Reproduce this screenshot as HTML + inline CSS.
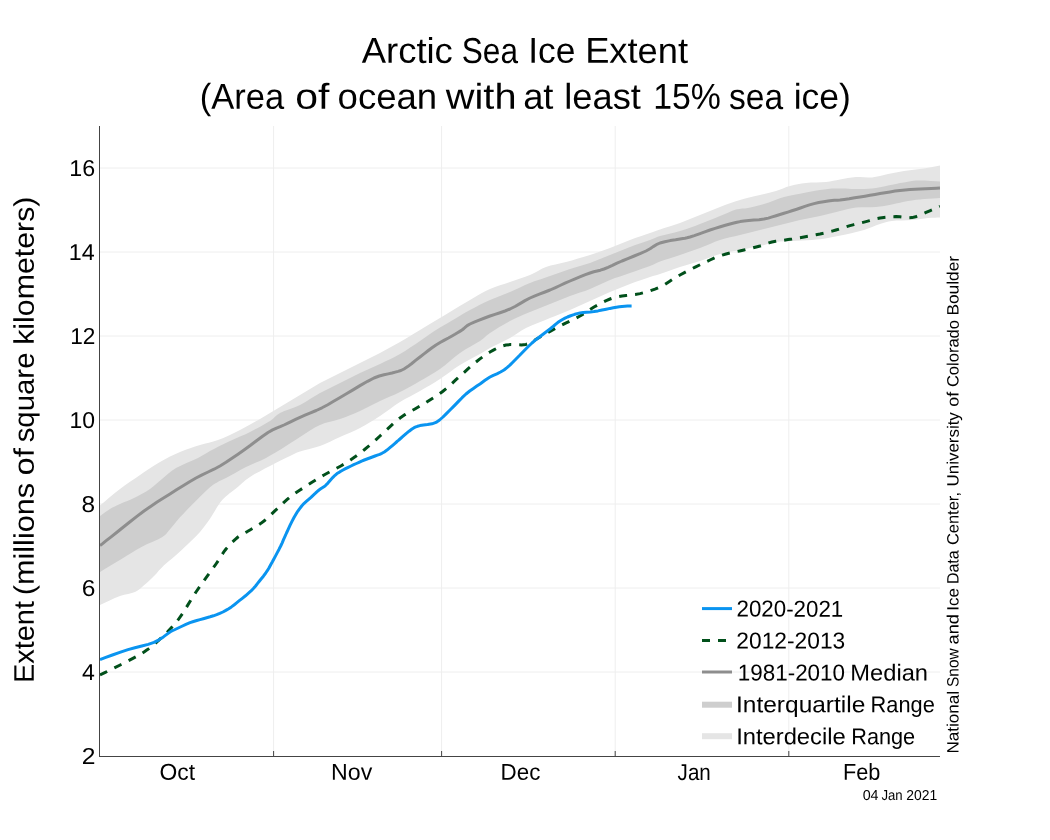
<!DOCTYPE html>
<html lang="en">
<head>
<meta charset="utf-8">
<title>Arctic Sea Ice Extent</title>
<style>
html,body{margin:0;padding:0;background:#fff;}
body{width:1050px;height:840px;overflow:hidden;}
svg text{font-family:"Liberation Sans", sans-serif;}
</style>
</head>
<body>
<svg width="1050" height="840" viewBox="0 0 1050 840" style="display:block;will-change:transform;opacity:0.999">
<rect width="1050" height="840" fill="#fff"/>
<line x1="273.6" x2="273.6" y1="126" y2="756" stroke="#eeeeee" stroke-width="1"/>
<line x1="441.6" x2="441.6" y1="126" y2="756" stroke="#eeeeee" stroke-width="1"/>
<line x1="615.2" x2="615.2" y1="126" y2="756" stroke="#eeeeee" stroke-width="1"/>
<line x1="788.8" x2="788.8" y1="126" y2="756" stroke="#eeeeee" stroke-width="1"/>
<line x1="100" x2="940" y1="672" y2="672" stroke="#eeeeee" stroke-width="1"/>
<line x1="100" x2="940" y1="588" y2="588" stroke="#eeeeee" stroke-width="1"/>
<line x1="100" x2="940" y1="504" y2="504" stroke="#eeeeee" stroke-width="1"/>
<line x1="100" x2="940" y1="420" y2="420" stroke="#eeeeee" stroke-width="1"/>
<line x1="100" x2="940" y1="336" y2="336" stroke="#eeeeee" stroke-width="1"/>
<line x1="100" x2="940" y1="252" y2="252" stroke="#eeeeee" stroke-width="1"/>
<line x1="100" x2="940" y1="168" y2="168" stroke="#eeeeee" stroke-width="1"/>
<clipPath id="c"><rect x="100" y="126" width="840" height="630"/></clipPath>
<g clip-path="url(#c)">
<polygon points="100,505.4 103.6,502.4 108.8,498.1 114.5,493.3 120,489 125,485.3 130,481.8 135,478.4 140,475 145,471.6 150,468.2 155,465 160,462 165,459.2 170,456.6 175,454.2 180,452 185,450 190.1,448.2 195.1,446.5 200,445 204.5,443.7 208.9,442.7 213.3,441.6 218,440 223.3,437.9 228.9,435.4 234.5,432.7 240,430 245.1,427.3 250.1,424.6 255,421.8 260,419 265,416.1 270,413.1 275,410 280,407 285,404 290,401 295,398 300,395 305,392 310,388.9 315,385.9 320,383 325,380.4 330,377.9 335,375.5 340,373 345,370.5 350,368 355,365.5 360,363 365,360.5 370,358.1 375,355.6 380,353 385,350.3 390,347.6 395,344.8 400,342 404.3,339.5 408.1,337.2 412.9,334.3 420,330 431.1,323.3 445,314.9 458.9,306.6 470,300 477.1,295.8 481.9,293.1 485.7,291 490,289 495,287 500,285.2 505,283.7 510,282 515.1,280.3 520.2,278.6 525.3,276.8 530,275 534.2,273 538,270.9 541.8,268.8 546,267 550.6,265.6 555.5,264.4 560.6,263.3 566,262 571.8,260.4 578,258.6 584.2,256.8 590,255 595.3,253.3 600.2,251.6 605.1,249.8 610,248 615,246 620,244 625,242 630,240 635.2,238.1 640.6,236.2 645.7,234.5 650,233 653,231.9 655,231.2 657,230.5 660,229.5 664.3,228.1 669.4,226.5 674.8,224.8 680,223 685,221.1 690,219.1 695,217 700,215 705,213 710,210.9 715,208.9 720,207 725,205.1 730,203.3 735,201.6 740,200 745.1,198.6 750.2,197.3 755.3,196.1 760,195 764.3,194 768.4,193 772.2,192 776,191 779.6,189.8 783,188.4 786.4,187.1 790,186 793.8,185.1 797.6,184.2 801.7,183.6 806,183 810.9,182.6 816.1,182.5 821.3,182.3 826,182 829.9,181.5 833.2,180.8 836.5,180.2 840,179.5 843.9,178.8 847.9,178.1 852,177.4 856,177 860,177 864,177.3 868,177.5 872,177.4 876,176.8 880,175.9 884,174.9 888,174 892,173.2 896,172.4 900,171.7 904,171 907.9,170.5 911.8,170 915.7,169.6 920,169 925.2,168.2 931,167.2 936.3,166.2 940,165.6 940,217.6 937.9,217.6 935,217.7 931.6,217.8 928,218 924.4,218.4 920.5,219 916.4,219.5 912,220 907.1,220.3 901.8,220.4 896.5,220.6 892,221 888.5,221.5 885.8,222.2 883.1,223 880,224 876.3,225.3 872.2,226.9 868.1,228.6 864,230 860.1,231.1 856.2,232.1 852.3,233 848,234 843.2,235 838,236.1 832.8,237.1 828,238 823.8,238.7 820,239.2 816.2,239.6 812,240 807.2,240.3 802,240.6 796.8,240.8 792,241 787.7,241.2 783.8,241.3 779.9,241.5 776,242 772.1,242.8 768.2,243.8 764.3,244.9 760,246 755.3,247 750.2,248 745.1,249 740,250 735,250.9 730,251.8 725,252.8 720,254 715,255.6 710,257.4 705,259.2 700,261 695,262.5 690,264 685,265.5 680,267 674.8,268.8 669.4,270.7 664.3,272.5 660,274 657,274.9 655,275.5 653,276.1 650,277 645.7,278.4 640.6,280.2 635.2,282.1 630,284 625,285.9 620,287.9 615,289.9 610,292 605,294.2 600,296.4 595,298.7 590,301 585,303.3 580,305.6 575,307.8 570,310 565.1,312 560.2,313.9 555.3,315.9 550,318 544.1,320.4 537.8,322.9 531.5,325.5 526,328 521.5,330.5 517.8,333 514.1,335.5 510,338 505,340.6 499.6,343.2 494.4,345.8 490,348 487,349.7 485,350.9 483,352.2 480,354 475.7,356.3 470.6,359 465.2,361.9 460,365 455,368.3 450,371.9 445,375.6 440,379 435,382.2 430,385.2 425,388.1 420,391 415,393.8 410,396.4 405,399.1 400,402 395,405.3 390,408.9 385,412.6 380,416 375,419.2 370,422.3 365,425.3 360,428 355,430.5 350,432.7 345,434.8 340,437 335,439.3 330,441.7 325,444 320,446 314.8,447.6 309.4,449 304.3,450.3 300,451.5 297,452.6 295,453.5 293,454.5 290,456 285.7,458.1 280.6,460.6 275.2,463.3 270,466 264.9,468.6 259.7,471.4 254.6,474.1 250,477 245.7,480.1 241.7,483.5 238.1,486.7 235,489.3 232.7,491.1 231.1,492.3 229.6,493.3 228,494.7 226.1,496.3 224.2,498 222.2,500.1 220,502.7 217.6,506.2 215.1,510.4 212.5,514.7 210,518.7 207.5,522.2 205.1,525.6 202.6,528.8 200,532 197.2,535.1 194.2,538.1 191.1,541 188,544 184.8,547.1 181.4,550.2 178.1,553.2 175,556 172.1,558.5 169.3,560.7 166.6,562.9 164,565.3 161.4,567.9 158.9,570.6 156.5,573.4 154,576 151.5,578.5 148.9,580.9 146.4,583.2 144,585.3 141.8,587.2 139.8,589 137.6,590.6 135,592 131.8,593.1 128.2,593.9 124.2,594.7 120,596 114.9,598.1 109.1,600.8 103.7,603.3 100,605" fill="#e5e5e5"/>
<polygon points="100,516 101.8,514.7 104.4,512.8 107.3,510.8 110,509 112.4,507.6 114.8,506.4 117.2,505.3 120,504 123.2,502.6 126.6,501.2 130.3,499.7 134,498 138,496 142.1,493.8 146.2,491.4 150,489 153.2,486.6 156.1,484.1 159,481.6 162,479 165.2,476.3 168.4,473.5 171.9,470.7 176,468 181.2,465.4 187.1,462.8 193,460.3 198,458 201.5,456.1 204.1,454.5 206.7,452.9 210,451 214.4,448.7 219.5,446.1 224.8,443.5 230,441 235,438.7 240,436.6 245,434.4 250,432 255.2,429.3 260.6,426.4 265.7,423.6 270,421 273,418.8 275,416.8 277,414.9 280,413 284.3,411.1 289.4,409.2 294.8,407.3 300,405 305,402.2 310,399.1 315,396 320,393 325,390.4 330,387.9 335,385.5 340,383 345,380.5 350,377.9 355,375.4 360,373 365,370.7 370,368.5 375,366.3 380,364 385,361.6 390,359.2 395,356.7 400,354 405.1,350.9 410.2,347.6 415.3,344.2 420,341 424.3,338.1 428.2,335.3 432.1,332.6 436,330 440,327.5 443.9,325.2 447.9,322.9 452,320.5 456.3,317.9 460.8,315.3 465.3,312.6 470,310 474.9,307.4 479.9,304.8 485,302.3 490,300 495,297.9 500,295.9 505,294 510,292 515,289.8 520,287.4 525,285.1 530,283 535,281.1 540,279.4 545,277.7 550,276 555,274.2 560,272.4 565,270.7 570,269 575,267.5 580,266.1 585,264.6 590,263 595,261.1 600,259.1 605,257 610,255 615,253 620,250.9 625,248.9 630,247 635.2,245.1 640.6,243.2 645.7,241.5 650,240 653,238.8 655,237.9 657,237 660,236 664.3,234.9 669.4,233.7 674.8,232.4 680,231 685,229.4 690,227.7 695,225.9 700,224 705.1,222 710.2,220 715.3,217.9 720,216 724.4,214.2 728.5,212.4 732.4,210.8 736,209.6 739.2,208.9 742,208.6 744.8,208.5 748,208 751.6,207.2 755.5,206.3 759.6,205.3 764,204 768.8,202.4 774,200.5 779.2,198.6 784,197 788.2,195.9 792,195.2 795.8,194.6 800,193.8 804.8,192.8 810,191.8 815.2,190.8 820,190 824.2,189.4 828,188.9 831.8,188.6 836,188.4 840.8,188.4 846,188.6 851.2,188.9 856,189 860.3,189 864.2,188.9 868.1,188.7 872,188.4 876,187.9 880,187.2 884,186.4 888,185.6 892,184.8 896,183.9 900,183.1 904,182.4 907.9,181.7 911.8,181.1 915.7,180.6 920,180.4 925.2,180.5 931,180.9 936.3,181.3 940,181.6 940,198 937.1,198.2 933,198.4 928.4,198.7 924,199 920,199.4 916,199.8 912,200.4 908,201 904,201.8 900,202.7 896,203.6 892,204.4 888.1,205.2 884.2,205.9 880.3,206.5 876,207 871.2,207.2 866,207.2 860.8,207.3 856,207.6 851.8,208.2 848,209 844.2,210 840,211 835.3,212.2 830.2,213.5 825.1,214.8 820,216 815,217 810,218 805,219 800,220 795,221.2 790,222.4 785,223.7 780,225 775,226.2 770,227.5 765,228.8 760,230 755,231.2 750,232.5 745,233.8 740,235 735,236.2 730,237.3 725,238.5 720,240 715,241.8 710,243.9 705,246 700,248 695,249.8 690,251.6 685,253.3 680,255 674.8,256.7 669.4,258.4 664.3,260 660,261.5 657,262.7 655,263.7 653,264.7 650,266 645.7,267.6 640.6,269.3 635.2,271.2 630,273 625,274.7 620,276.4 615,278.1 610,280 605,282.2 600,284.5 595,286.8 590,289 585,290.9 580,292.6 575,294.2 570,296 565,297.9 560,299.9 555,302 550,304 545,306 540,307.9 535,309.9 530,312 525,314.1 520,316.2 515,318.5 510,321 504.8,323.9 499.4,327.1 494.3,330.2 490,333 487,335.2 485,337 483,338.8 480,341 475.7,343.6 470.6,346.5 465.2,349.6 460,353 455,356.8 450,361 445,365.2 440,369 435,372.3 430,375.3 425,378.2 420,381 415,383.9 410,386.7 405,389.4 400,392 395,394.4 390,396.6 385,398.7 380,401 375,403.5 370,406.1 365,408.6 360,411 355,413.2 350,415.2 345,417.2 340,419 335,420.5 330,421.8 325,423.1 320,425 314.9,427.6 309.6,430.8 304.6,434.1 300,437 296.2,439.4 293,441.5 289.8,443.6 286,446 281.4,448.9 276.4,452 271.1,455.1 266,458 261,460.4 256,462.6 251,464.7 246,467 240.7,469.8 235.2,472.9 230.1,475.7 226,478 223.4,479.3 221.8,480 220.6,480.5 219,481.3 217.1,482.4 215.1,483.5 212.8,485.1 210,487.3 206.4,490.5 202.3,494.5 198,498.7 194,502.7 190.3,506.5 186.6,510.2 183.2,513.9 180,517.3 177.2,520.6 174.6,523.7 172.3,526.6 170,529.3 168.1,531.5 166.6,533.5 164.8,535.3 162,537.3 157.8,539.5 152.8,541.8 147.3,544.1 142,546.7 137,549.5 132.1,552.5 127.1,555.5 122,558.7 116.1,562.2 109.8,566.1 104,569.6 100,572" fill="#cecece"/>
<polyline points="100,545.6 102.6,543.6 106.2,540.7 110.8,537.1 116,533 122.2,528 129.4,522.3 136.9,516.4 144,511 150.6,506.4 157.1,502.1 163.5,498.1 170,494 176.5,489.8 183.1,485.7 189.6,481.7 196,478 202.1,474.8 208.1,472 214,469.2 220,466 226,462.3 232,458.3 238,454.2 244,450 250.2,445.5 256.5,440.7 262.6,436.2 268,432.5 272.6,429.9 276.5,428.1 280.2,426.7 284,425 287.9,423.1 291.6,421.3 295.6,419.4 300,417.3 305,415.2 310.5,412.9 316.2,410.5 322,407.8 327.8,404.7 333.6,401.3 339.7,397.7 346,394 353,389.9 360.4,385.4 367.6,381.3 374,378 379.3,376 384,374.8 388.2,373.9 392,373 395.3,372.1 398.1,371.4 400.9,370.5 404,369 407.7,366.6 411.8,363.5 415.9,360.2 420,357 424,353.9 428,350.8 432,347.8 436,345 440.1,342.5 444.4,340.1 448.4,338 452,336 455,334.3 457.5,332.8 459.8,331.4 462,330 463.9,328.5 465.4,327.1 467.2,325.6 470,324 474.2,322.1 479.2,320.1 484.7,318 490,316 495,314.3 500,312.7 505,311 510,309 515,306.5 520,303.6 525,300.6 530,298 535,295.8 540,293.9 545,292 550,290 555,287.8 560,285.5 565,283.2 570,281 575.1,278.8 580.4,276.7 585.4,274.7 590,273 593.8,271.8 597.1,271 600.4,270.2 604,269 608.1,267.3 612.4,265.4 617,263.2 622,261 627.8,258.6 634.2,256 640.6,253.4 646,251 650.1,248.8 653.2,246.6 656.3,244.7 660,243 664.8,241.7 670.2,240.6 675.6,239.8 680,239 683,238.5 685,238.2 687,237.8 690,237 694.3,235.6 699.4,233.8 704.8,231.8 710,230 715.1,228.4 720.4,226.8 725.4,225.3 730,224 733.8,223 737,222.2 740.2,221.6 744,221 748.7,220.5 753.9,220.1 759.1,219.7 764,219 768.3,218.1 772.2,216.9 776.1,215.7 780,214.5 784,213.3 787.9,212.1 791.9,210.8 796,209.5 800.4,208 804.9,206.4 809.5,204.9 814,203.6 818.7,202.5 823.6,201.7 828.2,200.9 832,200.4 834.4,200.2 835.9,200.2 837.4,200.2 840,200 844.2,199.4 849.2,198.7 854.7,197.8 860,197 865,196.2 870,195.3 875,194.4 880,193.6 885,192.7 890,191.9 895,191.1 900,190.4 905,189.9 910,189.6 915,189.3 920,189 925.5,188.7 931.2,188.4 936.4,188.2 940,188" fill="none" stroke="#8e8e8e" stroke-width="3" stroke-linejoin="round"/>
<polyline points="100,675 105.3,672.4 113,668.6 121.2,664.5 128,661 132.9,658.4 136.9,656.3 140.4,654.3 144,652 147.5,649.6 150.8,647.2 154.1,644.5 158,641 162.6,636.6 167.8,631.6 173,626 178,620 182.6,613.5 187,606.4 191.4,599.2 196,592 201.1,584.7 206.5,577.2 211.7,570.1 216,564 219.2,559.3 221.5,555.5 223.6,552.2 226,549 228.9,545.7 231.9,542.5 235,539.6 238,537 241,534.9 243.9,533.3 246.9,531.8 250,530 253.4,528 256.9,525.9 260.5,523.6 264,521 267.5,518 271.1,514.6 274.6,511.2 278,508 281.2,505 284.2,502.1 287.2,499.4 290,497 292.3,495.2 294.2,493.8 296.6,492.2 300,490 305.1,486.7 311.2,482.8 317.8,478.7 324,475 329.7,471.8 335.4,468.9 340.8,466 346,463 350.8,459.8 355.4,456.6 359.7,453.3 364,450 368,446.7 371.9,443.3 375.8,439.8 380,436 384.7,431.6 389.8,426.9 394.9,422.2 400,418 405,414.6 409.9,411.8 414.9,409 420,406 425.5,402.7 431.1,399.2 436.7,395.7 442,392 446.8,388.1 451.4,384 455.7,379.9 460,376 464.2,372.3 468.2,368.6 472.2,365.2 476,362 479.6,359.1 483,356.6 486.4,354.2 490,352 493.8,349.9 497.6,347.9 501.7,346.2 506,345 510.9,344.6 516.1,344.7 521.3,344.9 526,344.4 529.8,343.1 533,341.3 536.2,339.3 540,337 544.6,334.5 549.6,331.7 554.9,328.8 560,326 565.1,323.4 570.4,320.9 575.4,318.4 580,316 583.9,313.7 587.2,311.4 590.5,309.2 594,307 598,304.8 602.1,302.6 606.2,300.6 610,299 613.1,297.9 615.9,297.2 618.7,296.6 622,296 626,295.5 630.5,295 635.2,294.5 640,293.6 644.9,292.4 649.9,290.9 655,289.1 660,287 664.8,284.5 669.4,281.5 674.3,278.3 680,275 687.1,271.2 695.2,267.1 703.2,263.2 710,260 714.9,257.8 718.8,256.3 722.2,255.1 726,254 730.4,252.9 735,251.9 739.6,251 744,250 748.2,249 752.4,248 756.3,247 760,246 763.2,245 766,243.9 768.8,242.9 772,242 775.7,241.3 779.8,240.7 783.9,240.2 788,239.6 792,239 796,238.3 800,237.7 804,237 808,236.3 812,235.6 816,234.8 820,234 824,233.1 828.1,232.1 832.1,231.1 836,230 839.6,228.9 843,227.8 846.4,226.7 850,225.6 853.9,224.6 858,223.6 862.1,222.6 866,221.6 869.6,220.6 873,219.6 876.4,218.7 880,218 883.9,217.4 887.9,217 892,216.7 896,216.6 900,216.8 904.1,217.3 908.1,217.7 912,217.6 915.6,216.8 919.1,215.4 922.5,213.9 926,212.4 929.8,210.8 933.9,209.1 937.5,207.5 940,206.4" fill="none" stroke="#00501b" stroke-width="3" stroke-dasharray="8,8" stroke-linejoin="round"/>
<polyline points="100,659.6 105.1,657.7 112.4,655 120.5,652.1 128,649.6 134.9,647.7 141.8,646 148.2,644.4 154,642.4 159,639.8 163.4,636.9 167.1,634.1 170,632 171.6,631 172,630.8 172.4,630.7 174,630 177.2,628.5 181.4,626.5 185.9,624.4 190,622.7 193.5,621.5 196.8,620.5 200,619.6 203.3,618.7 206.7,617.7 210.1,616.8 213.4,615.8 216.7,614.7 219.8,613.4 222.9,612 225.8,610.4 228.7,608.7 231.4,606.9 234,605 236.6,602.9 239.3,600.7 242.3,598.3 245.5,595.8 248.5,593.2 251.3,590.7 253.6,588.3 255.6,586 257.4,583.7 259.3,581.3 261.3,578.8 263.4,576.2 265.4,573.5 267.3,570.7 269.1,567.8 270.7,564.8 272.4,561.8 274,558.7 275.7,555.6 277.4,552.4 279.1,549.2 280.7,546 282.2,542.8 283.5,539.7 285,536.4 286.5,533 288.3,529.2 290.1,525.2 292.1,521.2 294,517.5 295.9,514.3 297.7,511.3 299.7,508.6 301.7,506 303.9,503.6 306.3,501.4 308.7,499.3 311,497.3 313.1,495.3 315.2,493.4 317.1,491.6 319,490 320.7,488.8 322.3,487.8 323.9,486.8 325.7,485.3 327.9,483.1 330.3,480.3 332.7,477.6 335,475.3 337,473.6 338.9,472.4 340.8,471.2 343,470 345.5,468.7 348.2,467.3 351,466 353.7,464.7 356.4,463.5 359,462.3 361.6,461.1 364.3,460 367,459 369.7,458 372.4,457 375,456 377.4,455.1 379.7,454.3 381.9,453.3 384.3,452 387,450.1 389.9,447.7 392.7,445.3 395,443.3 396.5,442 397.4,441.2 398.4,440.4 400,439 402.6,436.7 405.8,433.9 409.1,431.2 412,429 414.1,427.7 415.8,426.9 417.5,426.3 420,425.6 423.5,425 427.6,424.6 432,423.8 436,422.4 439.6,420 443,417 446.4,413.6 450,410 453.9,406.1 458,401.9 462.1,397.7 466,394 469.7,391 473.4,388.4 476.8,386.1 480,384 482.7,382 485,380.3 487.3,378.7 490,377 493.3,375.3 496.9,373.8 500.5,372 504,370 507,367.6 509.9,365.1 512.8,362.2 516,359 519.7,355.3 523.6,351.2 527.8,347 532,343 536.5,339.2 541.4,335.5 546,332 550,329 553.1,326.5 555.5,324.4 557.7,322.6 560,321 562.5,319.5 565,318.2 567.5,317 570,316 572.4,315.1 574.8,314.3 577.2,313.6 580,313 583.2,312.6 586.6,312.3 590.3,312 594,311.6 598,310.9 602.1,310 606.2,309.2 610,308.4 613.3,307.8 616.4,307.2 619.3,306.8 622,306.4 624.8,306.2 627.5,306.1 629.9,306 631.6,306" fill="none" stroke="#0a94f0" stroke-width="3" stroke-linejoin="round"/>
</g>
<line x1="99.5" x2="99.5" y1="126" y2="757" stroke="#444" stroke-width="1"/>
<line x1="99" x2="940" y1="756.5" y2="756.5" stroke="#444" stroke-width="1"/>
<line x1="273.6" x2="273.6" y1="751" y2="756" stroke="#444" stroke-width="1"/>
<line x1="441.6" x2="441.6" y1="751" y2="756" stroke="#444" stroke-width="1"/>
<line x1="615.2" x2="615.2" y1="751" y2="756" stroke="#444" stroke-width="1"/>
<line x1="788.8" x2="788.8" y1="751" y2="756" stroke="#444" stroke-width="1"/>
<text transform="translate(361.77,62.85) rotate(0.03)" font-size="36.01" textLength="91.02" lengthAdjust="spacingAndGlyphs" fill="#000">Arctic</text>
<text transform="translate(461.78,62.85) rotate(0.03)" font-size="36.01" textLength="56.18" lengthAdjust="spacingAndGlyphs" fill="#000">Sea</text>
<text transform="translate(528.14,62.85) rotate(0.03)" font-size="36.01" textLength="47.15" lengthAdjust="spacingAndGlyphs" fill="#000">Ice</text>
<text transform="translate(585.13,62.85) rotate(0.03)" font-size="36.01" textLength="102.83" lengthAdjust="spacingAndGlyphs" fill="#000">Extent</text>
<text transform="translate(199.84,108.65) rotate(0.03)" font-size="36.01" textLength="84.22" lengthAdjust="spacingAndGlyphs" fill="#000">(Area</text>
<text transform="translate(295.19,108.65) rotate(0.03)" font-size="36.01" textLength="34.06" lengthAdjust="spacingAndGlyphs" fill="#000">of</text>
<text transform="translate(337.61,108.65) rotate(0.03)" font-size="36.01" textLength="99.49" lengthAdjust="spacingAndGlyphs" fill="#000">ocean</text>
<text transform="translate(445.85,108.65) rotate(0.03)" font-size="36.01" textLength="70.66" lengthAdjust="spacingAndGlyphs" fill="#000">with</text>
<text transform="translate(523.15,108.65) rotate(0.03)" font-size="36.01" textLength="30.33" lengthAdjust="spacingAndGlyphs" fill="#000">at</text>
<text transform="translate(564.29,108.65) rotate(0.03)" font-size="36.01" textLength="76.54" lengthAdjust="spacingAndGlyphs" fill="#000">least</text>
<text transform="translate(653.23,108.65) rotate(0.03)" font-size="36.01" textLength="67.65" lengthAdjust="spacingAndGlyphs" fill="#000">15%</text>
<text transform="translate(729.04,108.65) rotate(0.03)" font-size="36.01" textLength="54.08" lengthAdjust="spacingAndGlyphs" fill="#000">sea</text>
<text transform="translate(793.75,108.65) rotate(0.03)" font-size="36.01" textLength="57.11" lengthAdjust="spacingAndGlyphs" fill="#000">ice)</text>
<text transform="translate(33.7,683.02) rotate(-89.97)" font-size="28.34" textLength="81.95" lengthAdjust="spacingAndGlyphs" fill="#000">Extent</text>
<text transform="translate(33.7,595.26) rotate(-89.97)" font-size="28.34" textLength="112.42" lengthAdjust="spacingAndGlyphs" fill="#000">(millions</text>
<text transform="translate(33.7,475.39) rotate(-89.97)" font-size="28.34" textLength="27.28" lengthAdjust="spacingAndGlyphs" fill="#000">of</text>
<text transform="translate(33.7,442.34) rotate(-89.97)" font-size="28.34" textLength="89.81" lengthAdjust="spacingAndGlyphs" fill="#000">square</text>
<text transform="translate(33.7,344.80) rotate(-89.97)" font-size="28.34" textLength="148.24" lengthAdjust="spacingAndGlyphs" fill="#000">kilometers)</text>
<text transform="translate(958.6,753.48) rotate(-89.97)" font-size="16.43" textLength="62.59" lengthAdjust="spacingAndGlyphs" fill="#000">National</text>
<text transform="translate(958.6,686.93) rotate(-89.97)" font-size="16.43" textLength="38.48" lengthAdjust="spacingAndGlyphs" fill="#000">Snow</text>
<text transform="translate(958.6,644.41) rotate(-89.97)" font-size="16.43" textLength="30.43" lengthAdjust="spacingAndGlyphs" fill="#000">and</text>
<text transform="translate(958.6,610.63) rotate(-89.97)" font-size="16.43" textLength="22.58" lengthAdjust="spacingAndGlyphs" fill="#000">Ice</text>
<text transform="translate(958.6,584.10) rotate(-89.97)" font-size="16.43" textLength="33.81" lengthAdjust="spacingAndGlyphs" fill="#000">Data</text>
<text transform="translate(958.6,545.06) rotate(-89.97)" font-size="16.43" textLength="53.04" lengthAdjust="spacingAndGlyphs" fill="#000">Center,</text>
<text transform="translate(958.6,486.39) rotate(-89.97)" font-size="16.43" textLength="74.20" lengthAdjust="spacingAndGlyphs" fill="#000">University</text>
<text transform="translate(958.6,406.70) rotate(-89.97)" font-size="16.43" textLength="14.83" lengthAdjust="spacingAndGlyphs" fill="#000">of</text>
<text transform="translate(958.6,387.10) rotate(-89.97)" font-size="16.43" textLength="67.06" lengthAdjust="spacingAndGlyphs" fill="#000">Colorado</text>
<text transform="translate(958.6,315.57) rotate(-89.97)" font-size="16.43" textLength="59.60" lengthAdjust="spacingAndGlyphs" fill="#000">Boulder</text>
<text transform="translate(736.46,616.6) rotate(0.03)" font-size="22.99" textLength="106.78" lengthAdjust="spacingAndGlyphs" fill="#000">2020-2021</text>
<text transform="translate(736.37,648.5) rotate(0.03)" font-size="22.99" textLength="108.88" lengthAdjust="spacingAndGlyphs" fill="#000">2012-2013</text>
<text transform="translate(737.77,680.4) rotate(0.03)" font-size="22.99" textLength="107.28" lengthAdjust="spacingAndGlyphs" fill="#000">1981-2010</text>
<text transform="translate(850.33,680.4) rotate(0.03)" font-size="22.99" textLength="77.66" lengthAdjust="spacingAndGlyphs" fill="#000">Median</text>
<text transform="translate(736.07,712.3) rotate(0.03)" font-size="22.99" textLength="129.20" lengthAdjust="spacingAndGlyphs" fill="#000">Interquartile</text>
<text transform="translate(870.59,712.3) rotate(0.03)" font-size="22.99" textLength="64.16" lengthAdjust="spacingAndGlyphs" fill="#000">Range</text>
<text transform="translate(736.13,744.2) rotate(0.03)" font-size="22.99" textLength="109.53" lengthAdjust="spacingAndGlyphs" fill="#000">Interdecile</text>
<text transform="translate(851.26,744.2) rotate(0.03)" font-size="22.99" textLength="63.89" lengthAdjust="spacingAndGlyphs" fill="#000">Range</text>
<text transform="translate(159.56,779.8) rotate(0.03)" font-size="22.99" textLength="35.55" lengthAdjust="spacingAndGlyphs" fill="#000">Oct</text>
<text transform="translate(331.06,779.8) rotate(0.03)" font-size="22.99" textLength="41.17" lengthAdjust="spacingAndGlyphs" fill="#000">Nov</text>
<text transform="translate(500.56,779.8) rotate(0.03)" font-size="22.99" textLength="39.74" lengthAdjust="spacingAndGlyphs" fill="#000">Dec</text>
<text transform="translate(677.59,779.8) rotate(0.03)" font-size="22.99" textLength="33.18" lengthAdjust="spacingAndGlyphs" fill="#000">Jan</text>
<text transform="translate(842.88,779.8) rotate(0.03)" font-size="22.99" textLength="37.42" lengthAdjust="spacingAndGlyphs" fill="#000">Feb</text>
<text transform="translate(862.67,800) rotate(0.03)" font-size="14.42" textLength="15.88" lengthAdjust="spacingAndGlyphs" fill="#000">04</text>
<text transform="translate(881.46,800) rotate(0.03)" font-size="14.42" textLength="21.23" lengthAdjust="spacingAndGlyphs" fill="#000">Jan</text>
<text transform="translate(906.29,800) rotate(0.03)" font-size="14.42" textLength="30.92" lengthAdjust="spacingAndGlyphs" fill="#000">2021</text>
<text transform="translate(81.63,763.9) rotate(0.03)" font-size="22.99" textLength="13.71" lengthAdjust="spacingAndGlyphs" fill="#000">2</text>
<text transform="translate(81.99,679.9) rotate(0.03)" font-size="22.99" textLength="12.84" lengthAdjust="spacingAndGlyphs" fill="#000">4</text>
<text transform="translate(81.64,595.9) rotate(0.03)" font-size="22.99" textLength="13.67" lengthAdjust="spacingAndGlyphs" fill="#000">6</text>
<text transform="translate(81.53,511.9) rotate(0.03)" font-size="22.99" textLength="13.58" lengthAdjust="spacingAndGlyphs" fill="#000">8</text>
<text transform="translate(69.61,427.9) rotate(0.03)" font-size="22.99" textLength="25.54" lengthAdjust="spacingAndGlyphs" fill="#000">10</text>
<text transform="translate(70.25,343.9) rotate(0.03)" font-size="22.99" textLength="25.17" lengthAdjust="spacingAndGlyphs" fill="#000">12</text>
<text transform="translate(68.83,259.9) rotate(0.03)" font-size="22.99" textLength="25.87" lengthAdjust="spacingAndGlyphs" fill="#000">14</text>
<text transform="translate(69.32,175.9) rotate(0.03)" font-size="22.99" textLength="25.87" lengthAdjust="spacingAndGlyphs" fill="#000">16</text>
<line x1="702" x2="732" y1="608.6" y2="608.6" stroke="#0a94f0" stroke-width="3"/>
<line x1="702" x2="732" y1="640.5" y2="640.5" stroke="#00501b" stroke-width="3" stroke-dasharray="8,8"/>
<line x1="702" x2="732" y1="672" y2="672" stroke="#8e8e8e" stroke-width="3"/>
<rect x="702" y="701.7" width="30" height="6" fill="#cecece"/>
<rect x="702" y="733.2" width="30" height="6" fill="#e5e5e5"/>
</svg>
</body>
</html>
